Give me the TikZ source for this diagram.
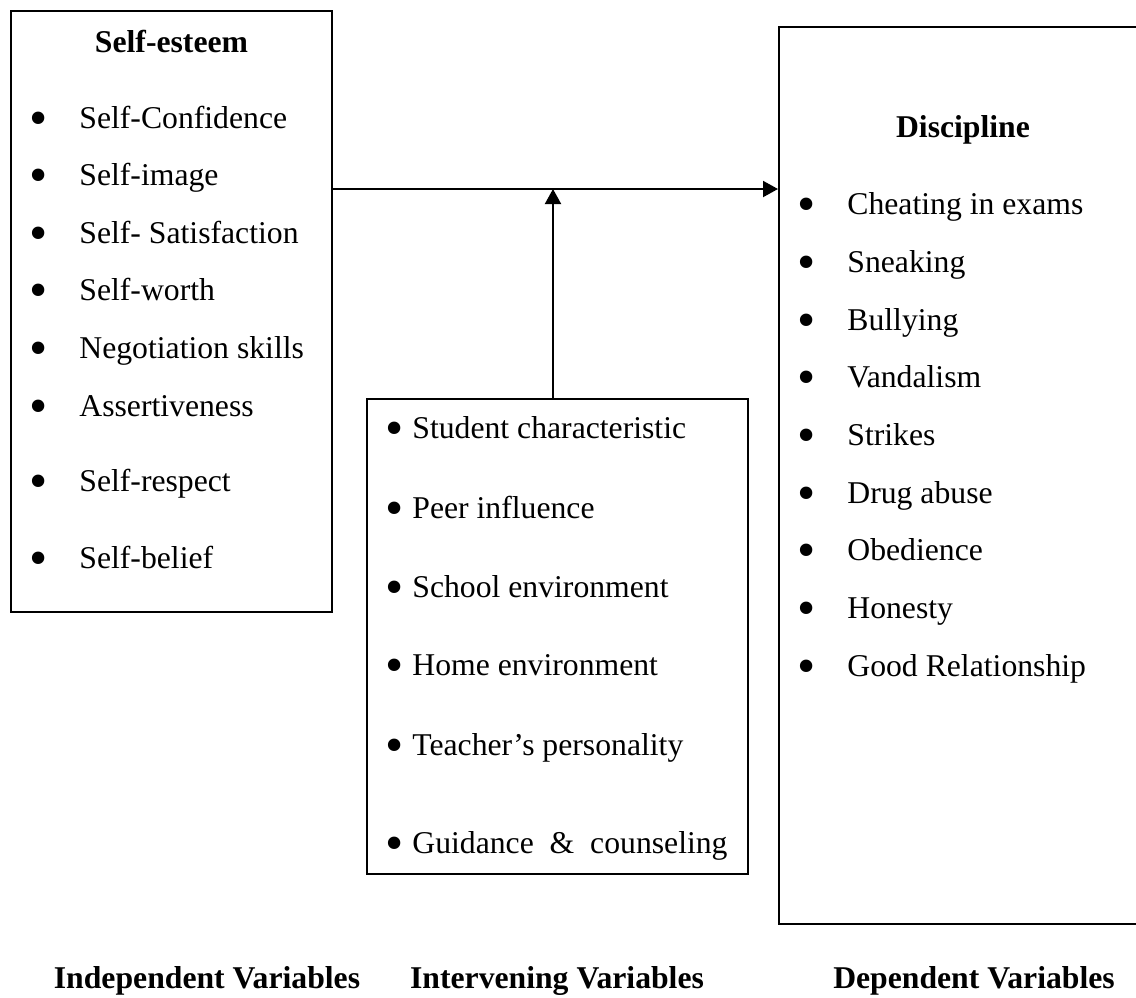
\documentclass[tikz,border=0pt]{standalone}
\usepackage{fontspec}
\setmainfont{Liberation Serif}
\usetikzlibrary{arrows.meta,fit}
\begin{document}
\begin{tikzpicture}[x=0.5pt,y=-0.5pt,
  box/.style={draw, line width=1pt, inner sep=0pt},
  txt/.style={inner sep=0pt, anchor=base west, font=\fontsize{15.85}{19}\selectfont},
  bul/.style={inner sep=0pt, anchor=center, font=\fontsize{26}{30}\selectfont},
  head/.style={inner sep=0pt, anchor=base, font=\fontsize{15.85}{19}\selectfont\bfseries},
  arr/.style={line width=1pt, -{Triangle[length=7.5pt,width=8pt]}}]
\useasboundingbox (0,0) rectangle (1136,997);
% boxes
\node[box, fit={(11,11)(332,612)}] (ind) {};
\node[box, fit={(367,399)(748,874)}] (mid) {};
\node[box, fit={(779,27)(1145,924)}] (dep) {};
% independent
\node[head] (h1) at (171.5,52) {Self-esteem};
\foreach \n/\y/\t in {a/128/Self-Confidence, b/185/Self-image, c/243/Self- Satisfaction, d/300/Self-worth, e/358/Negotiation skills, f/416/Assertiveness, g/491/Self-respect, h/568/Self-belief}{
  \node[bul] (ib\n) at (39,\y-4.5) {•};
  \node[txt] (it\n) at (79,\y) {\t};
}
% intervening
\foreach \n/\y/\t in {a/438/Student characteristic, b/518/Peer influence, c/597/School environment, d/675/Home environment, e/755/Teacher’s personality, f/853/Guidance~~\&~~counseling}{
  \node[bul] (mb\n) at (395,\y-4.5) {•};
  \node[txt] (mt\n) at (412,\y) {\t};
}
% dependent
\node[head] (h2) at (963,137) {Discipline};
\foreach \n/\y/\t in {a/214/Cheating in exams, b/272/Sneaking, c/330/Bullying, d/387/Vandalism, e/445/Strikes, f/503/Drug abuse, g/560/Obedience, h/618/Honesty, i/676/Good Relationship}{
  \node[bul] (db\n) at (807,\y-4.5) {•};
  \node[txt] (dt\n) at (847,\y) {\t};
}
% connectors
\coordinate (j) at (553,189);
\draw[arr] (ind.east |- j) -- (dep.west |- j);
\draw[arr] (mid.north -| j) -- (j);
% bottom labels
\node[head] (l1) at (207,988) {Independent Variables};
\node[head] (l2) at (557,988) {Intervening Variables};
\node[head] (l3) at (974,988) {Dependent Variables};
\end{tikzpicture}
\end{document}
